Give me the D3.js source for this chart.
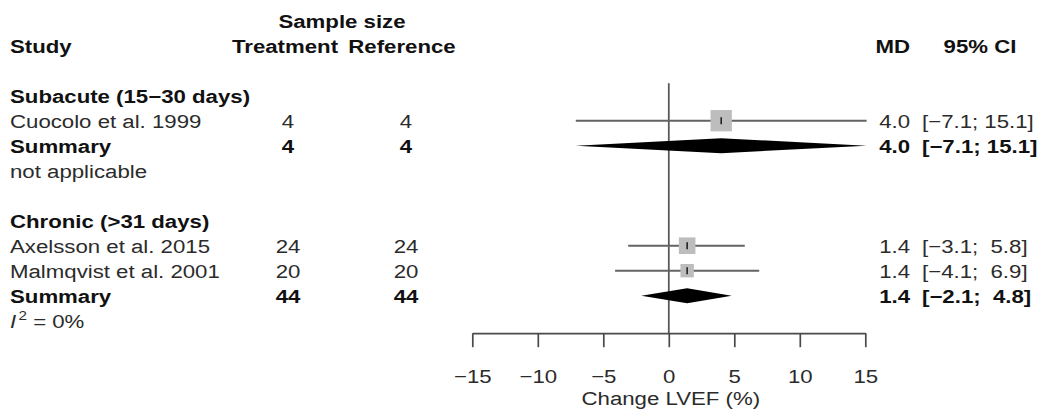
<!DOCTYPE html>
<html>
<head>
<meta charset="utf-8">
<script src="https://cdn.jsdelivr.net/npm/d3@7"></script>
<style>
  html, body { margin: 0; padding: 0; background: #fff; }
  svg { display: block; font-family: "Liberation Sans", Arial, Helvetica, sans-serif; }
  text { white-space: pre; }
</style>
</head>
<body>
<script>
// ---- data ----
const groupNames = ["Subacute (15\u221230 days)", "Chronic (>31 days)"];
const studyNames = ["Cuocolo et al. 1999", "Axelsson et al. 2015", "Malmqvist et al. 2001"];
const studyGroup = [0, 1, 1];
const studyMD = [4.0, 1.4, 1.4];
const studyLower = [-7.1, -3.1, -4.1];
const studyUpper = [15.1, 5.8, 6.9];
const studyWeight = [100, 60.5, 39.5];        // weight within subgroup, %
const studyNTreat = [4, 24, 20];
const studyNRef = [4, 24, 20];
const summaryMD = [4.0, 1.4];
const summaryLower = [-7.1, -2.1];
const summaryUpper = [15.1, 4.8];
const summaryNTreat = [4, 44];
const summaryNRef = [4, 44];
const heterogeneity = ["not applicable", "I2"];
const tickValues = [-15, -10, -5, 0, 5, 10, 15];
const xTitle = "Change LVEF (%)";

// ---- layout ----
const W = 1041, H = 414;
const SX = 1.17;            // horizontal text stretch of the figure
const FS = 19;              // font size
const BASE = 6.8;           // baseline offset from row centre

const svg = d3.select("body").append("svg").attr("width", W).attr("height", H);

const x = d3.scaleLinear().domain([-15, 15]).range([472.3, 865.3]);
const y = d3.scaleLinear().domain([0, 12]).range([20.7, 320.7]);
const box = d3.scaleSqrt().domain([0, 100]).range([0, 21.3]);

const col = { study: 10, treat: 288, ref: 406, headTreat: 285, headRef: 402, headSample: 342, md: 910, ci: 922 };

const f1 = d3.format(".1f");
const f4 = d3.format(">4.1f");
const ciText = (lo, hi) => "[" + f1(lo) + "; " + f4(hi) + "]";

function label(px, row, str, opt = {}) {
  const t = svg.append("text")
    .attr("transform", `translate(${px},${y(row) + BASE}) scale(${SX},1)`)
    .attr("text-anchor", opt.anchor || "start")
    .attr("xml:space", "preserve")
    .style("font-size", FS + "px")
    .style("font-weight", opt.bold ? "bold" : "normal")
    .style("fill", opt.bold ? "#111" : "#2b2b2b")
    .text(str);
  return t;
}

// row assignment
const groupRow = [3, 8];
const studyRow = [4, 9, 10];
const summaryRow = [5, 11];
const hetRow = [6, 12];

// ---- header ----
label(col.headSample, 0, "Sample size", { anchor: "middle", bold: true });
label(col.study, 1, "Study", { bold: true });
label(col.headTreat, 1, "Treatment", { anchor: "middle", bold: true });
label(col.headRef, 1, "Reference", { anchor: "middle", bold: true });
label(col.md, 1, "MD", { anchor: "end", bold: true });
label(980, 1, "95% CI", { anchor: "middle", bold: true });

// ---- reference line at zero ----
svg.append("line")
  .attr("x1", x(0)).attr("x2", x(0))
  .attr("y1", y(2.5)).attr("y2", y(12.5))
  .attr("stroke", "#5a5a5a").attr("stroke-width", 1.8);

// ---- groups ----
groupNames.forEach((g, gi) => label(col.study, groupRow[gi], g, { bold: true }));

// ---- studies ----
studyNames.forEach((s, i) => {
  const r = studyRow[i];
  label(col.study, r, s);
  label(col.treat, r, String(studyNTreat[i]), { anchor: "middle" });
  label(col.ref, r, String(studyNRef[i]), { anchor: "middle" });
  label(col.md, r, f1(studyMD[i]), { anchor: "end" });
  label(col.ci, r, ciText(studyLower[i], studyUpper[i]));

  const cy = y(r);
  svg.append("line")
    .attr("x1", x(studyLower[i])).attr("x2", x(studyUpper[i]))
    .attr("y1", cy).attr("y2", cy)
    .attr("stroke", "#636363").attr("stroke-width", 1.9);
  const s2 = box(studyWeight[i]);
  svg.append("rect")
    .attr("x", x(studyMD[i]) - s2 / 2).attr("y", cy - s2 / 2)
    .attr("width", s2).attr("height", s2)
    .attr("fill", "#bdbdbd");
  svg.append("line")
    .attr("x1", x(studyMD[i])).attr("x2", x(studyMD[i]))
    .attr("y1", cy - 3.5).attr("y2", cy + 3.5)
    .attr("stroke", "#222").attr("stroke-width", 1.6);
});

// ---- summaries ----
summaryMD.forEach((m, gi) => {
  const r = summaryRow[gi];
  label(col.study, r, "Summary", { bold: true });
  label(col.treat, r, String(summaryNTreat[gi]), { anchor: "middle", bold: true });
  label(col.ref, r, String(summaryNRef[gi]), { anchor: "middle", bold: true });
  label(col.md, r, f1(m), { anchor: "end", bold: true });
  label(col.ci, r, ciText(summaryLower[gi], summaryUpper[gi]), { bold: true });

  const cy = y(r), hh = 7.5;
  svg.append("path")
    .attr("d", `M${x(summaryLower[gi])},${cy} L${x(m)},${cy - hh} L${x(summaryUpper[gi])},${cy} L${x(m)},${cy + hh} Z`)
    .attr("fill", "#000");
});

// ---- heterogeneity ----
hetRow.forEach((r, gi) => {
  if (heterogeneity[gi] === "I2") {
    const t = label(col.study, r, "");
    t.append("tspan").style("font-style", "italic").text("I");
    t.append("tspan").attr("dy", -8).attr("dx", 2).style("font-size", "13px").text("2");
    t.append("tspan").attr("dy", 8).text(" = 0%");
  } else {
    label(col.study, r, heterogeneity[gi]);
  }
});

// ---- axis ----
const axisY = y(12.5);
const axis = d3.axisBottom(x)
  .tickValues(tickValues)
  .tickSize(14)
  .tickSizeOuter(0)
  .tickPadding(22)
  .tickFormat(d3.format("d"));

const gAxis = svg.append("g")
  .attr("transform", `translate(0,${axisY})`)
  .call(axis)
  .attr("font-size", null)
  .attr("font-family", null);
gAxis.select(".domain").attr("stroke", "#4a4a4a").attr("stroke-width", 1.7);
gAxis.selectAll(".tick line").attr("stroke", "#4a4a4a").attr("stroke-width", 1.7);
gAxis.selectAll(".tick text")
  .attr("transform", `scale(${SX},1)`)
  .style("font-size", FS + "px")
  .style("fill", "#2b2b2b");

svg.append("text")
  .attr("transform", `translate(${x(0) + 2},${405}) scale(${SX},1)`)
  .attr("text-anchor", "middle")
  .style("font-size", FS + "px")
  .style("fill", "#2b2b2b")
  .text(xTitle);
</script>
</body>
</html>
